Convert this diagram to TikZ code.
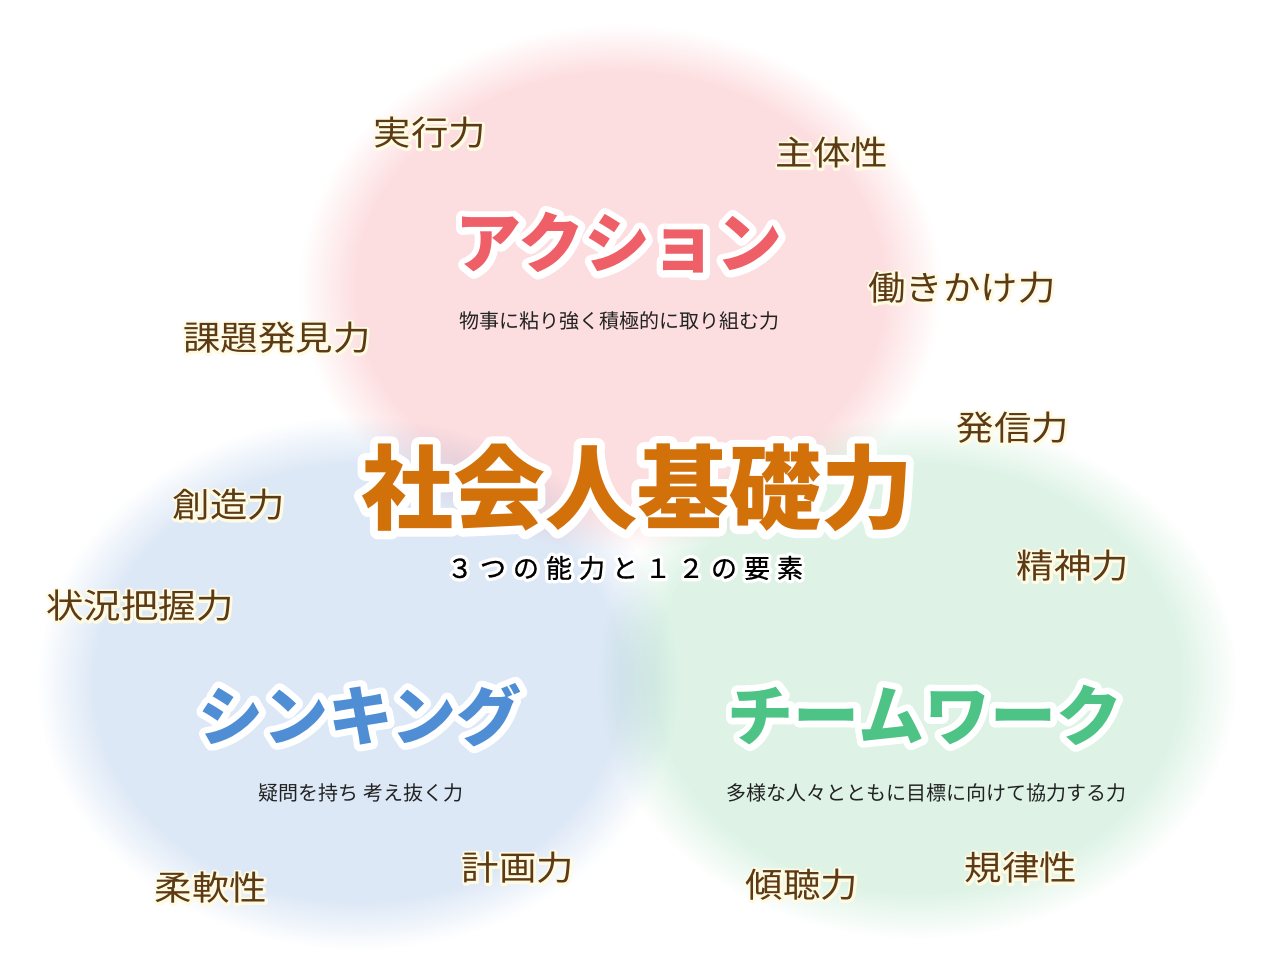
\documentclass[tikz,border=0pt]{standalone}
\usepackage{fontspec}
\newfontfamily\jp{Noto Sans CJK JP}
\newfontfamily\jpmed[FakeBold=0.8]{Noto Sans CJK JP}
\newfontfamily\jpoutA[FakeBold=17]{Noto Sans CJK JP}
\newfontfamily\jpoutB[FakeBold=20]{Noto Sans CJK JP}
\newfontfamily\jpoutC[FakeBold=27]{Noto Sans CJK JP}
\newfontfamily\kwfont[FakeStretch=1.1]{Noto Sans CJK JP}
\newfontfamily\kwhalo[FakeStretch=1.1,FakeBold=15]{Noto Sans CJK JP}
\definecolor{cpink}{RGB}{253,222,224}
\definecolor{cblue}{RGB}{221,232,246}
\definecolor{cgreen}{RGB}{222,243,230}
\definecolor{kwbrown}{RGB}{92,58,20}
\definecolor{halo}{RGB}{255,250,228}
\definecolor{torange}{RGB}{210,112,10}
\definecolor{tred}{RGB}{239,95,103}
\definecolor{tblue}{RGB}{79,142,212}
\definecolor{tgreen}{RGB}{77,195,133}
\definecolor{subdark}{RGB}{34,34,34}
\pgfdeclareradialshading{pinkblob}{\pgfpointorigin}{color(0bp)=(cpink); color(20.5bp)=(cpink); color(25bp)=(white); color(50bp)=(white)}
\pgfdeclareradialshading{blueblob}{\pgfpointorigin}{color(0bp)=(cblue); color(20.5bp)=(cblue); color(25bp)=(white); color(50bp)=(white)}
\pgfdeclareradialshading{greenblob}{\pgfpointorigin}{color(0bp)=(cgreen); color(20.5bp)=(cgreen); color(25bp)=(white); color(50bp)=(white)}
% outlined text: #1 outline font, #2 colour, #3 text
\newcommand\outl[3]{\rlap{\textcolor{white}{#1\bfseries #3}}\textcolor{#2}{\jp\bfseries #3}}
\newcommand\kwtext[1]{\rlap{\textcolor{halo}{\kwhalo #1}}{\kwfont #1}}
\newcommand\lsch[1]{\makebox[33pt]{#1}}
\tikzset{
  kw/.style={text=kwbrown, font=\fontsize{34}{36}\selectfont, inner sep=0pt},
  sub/.style={text=subdark, font=\jp\fontsize{20}{22}\selectfont, inner sep=0pt},
  ttl/.style={inner sep=0pt, font=\fontsize{#1}{#1}\selectfont},
  blob/.style={blend mode=multiply}
}
\begin{document}
\begin{tikzpicture}[x=1pt,y=-1pt]
\useasboundingbox[fill=white] (0,0) rectangle (1280,965);
% blurred circles
\shade[blob, shading=pinkblob] (620,288) ellipse [x radius=322pt, y radius=264pt];
\shade[blob, shading=blueblob] (358,683) ellipse [x radius=322pt, y radius=267pt];
\shade[blob, shading=greenblob] (917,678) ellipse [x radius=322pt, y radius=262pt];
\begin{scope}[line join=round, line cap=round]
% main title
\node[ttl=92] (main) at (637,488) {\outl{\jpoutA}{torange}{社会人基礎力}};
\node[inner sep=0pt, font=\fontsize{26}{28}\selectfont] (mainsub) at (625,568)
  {\rlap{\textcolor{white}{\jpoutC\lsch{３}\lsch{つ}\lsch{の}\lsch{能}\lsch{力}\lsch{と}\lsch{１}\lsch{２}\lsch{の}\lsch{要}\lsch{素}}}%
   {\jpmed\lsch{３}\lsch{つ}\lsch{の}\lsch{能}\lsch{力}\lsch{と}\lsch{１}\lsch{２}\lsch{の}\lsch{要}\lsch{素}}};
% three abilities
\node[ttl=66] (action) at (619,243) {\outl{\jpoutB}{tred}{アクション}};
\node[sub] (actionsub) at (619,321) {物事に粘り強く積極的に取り組む力};
\node[ttl=65] (think) at (360,715) {\outl{\jpoutB}{tblue}{シンキング}};
\node[sub] (thinksub) at (361,793) {疑問を持ち\ 考え抜く力};
\node[ttl=66] (team) at (925,715) {\outl{\jpoutB}{tgreen}{チームワーク}};
\node[sub] (teamsub) at (926,793) {多様な人々とともに目標に向けて協力する力};
% twelve elements
\node[kw] (k1) at (430,133) {\kwtext{実行力}};
\node[kw] (k2) at (832,153) {\kwtext{主体性}};
\node[kw] (k3) at (962,288) {\kwtext{働きかけ力}};
\node[kw] (k4) at (277,338) {\kwtext{課題発見力}};
\node[kw] (k5) at (1013,428) {\kwtext{発信力}};
\node[kw] (k6) at (229,505) {\kwtext{創造力}};
\node[kw] (k7) at (1073,566) {\kwtext{精神力}};
\node[kw] (k8) at (140,606) {\kwtext{状況把握力}};
\node[kw] (k9) at (518,868) {\kwtext{計画力}};
\node[kw] (k10) at (211,888) {\kwtext{柔軟性}};
\node[kw] (k11) at (802,885) {\kwtext{傾聴力}};
\node[kw] (k12) at (1021,868) {\kwtext{規律性}};
\end{scope}
\end{tikzpicture}
\end{document}
